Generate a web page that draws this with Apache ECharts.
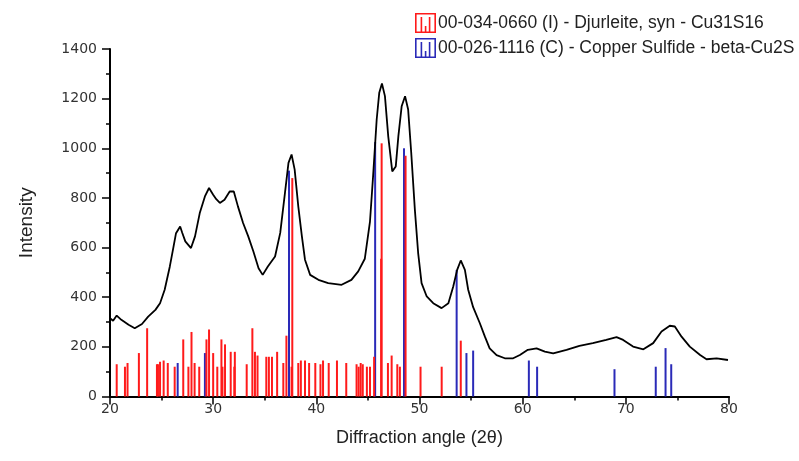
<!DOCTYPE html>
<html>
<head>
<meta charset="utf-8">
<script src="https://cdn.jsdelivr.net/npm/echarts@6/dist/echarts.min.js"></script>
<style>html,body{margin:0;padding:0;background:#fff}#c{width:799px;height:461px}</style>
</head>
<body>
<div id="c"></div>
<script>
// Measured XRD pattern (2θ, intensity)
const curveAngle = [20.0,20.3,20.65,21.1,21.8,22.4,23.1,23.7,24.4,24.85,25.3,25.8,26.1,26.4,26.8,27.0,27.3,27.85,28.24,28.7,29.2,29.6,30.0,30.3,30.65,31.1,31.6,32.0,32.4,32.9,33.4,33.9,34.4,34.8,35.3,36.0,36.5,36.96,37.3,37.6,37.9,38.25,38.6,38.9,39.4,40.2,41.15,42.45,43.4,44.06,44.7,45.2,45.5,45.85,46.1,46.36,46.65,46.97,47.36,47.7,47.95,48.27,48.6,48.9,49.2,49.55,49.87,50.2,50.7,51.33,52.14,52.8,53.27,53.65,54.0,54.4,54.72,55.2,55.85,56.34,56.8,57.47,58.27,59.08,59.73,60.5,61.35,62.15,62.96,64.25,65.5,66.8,68.1,69.1,69.74,70.7,71.7,72.65,73.46,74.26,74.75,75.4,76.2,77.2,77.82,78.8,79.9];
const curveIntensity = [315,305,326,309,289,275,292,322,349,376,430,524,591,658,685,660,625,598,645,739,806,840,813,795,780,793,826,826,766,699,645,584,517,490,524,564,659,820,941,975,914,766,645,551,490,470,457,450,470,504,555,705,887,1116,1224,1261,1210,1048,907,927,1048,1169,1210,1156,981,753,578,457,403,376,356,376,443,510,548,510,430,360,295,241,194,167,154,154,167,188,194,181,174,188,204,215,228,239,228,201,190,215,262,285,282,241,201,167,150,154,147];

// Reference pattern 00-034-0660 (I) - Djurleite, syn - Cu31S16
const djurName = '00-034-0660 (I) - Djurleite, syn - Cu31S16';
const djurAngle = [20.65,21.45,21.7,22.8,23.6,24.55,24.65,24.85,25.2,25.6,26.27,27.1,27.6,27.9,28.2,28.65,29.35,29.6,30.0,30.4,30.8,30.9,31.15,31.7,32.05,32.1,33.25,33.8,34.05,34.3,35.15,35.4,35.7,36.2,36.8,37.1,37.6,37.67,38.25,38.5,38.9,39.3,39.9,40.4,40.65,41.2,42.0,42.9,43.9,44.1,44.3,44.5,44.9,45.2,45.6,46.28,46.33,46.94,47.3,47.85,48.1,48.65,50.1,52.15,54.0];
const djurIntensity = [130,120,135,175,275,130,130,140,145,135,120,230,120,260,135,120,230,270,175,120,230,120,210,180,120,180,130,275,180,165,160,160,160,180,135,245,120,880,135,145,145,135,135,130,145,135,145,135,130,120,135,130,120,120,160,555,1020,135,165,130,120,970,120,120,225];

// Reference pattern 00-026-1116 (C) - Copper Sulfide - beta-Cu2S
const cu2sName = '00-026-1116 (C) - Copper Sulfide - beta-Cu2S';
const cu2sAngle = [26.56,29.2,37.35,45.7,48.5,53.6,54.55,55.2,60.6,61.4,68.9,72.9,73.85,74.4];
const cu2sIntensity = [135,175,910,1025,1000,510,175,185,145,120,110,120,195,130];

const zip = (a, b) => a.map((v, i) => [v, b[i]]);

const stickRender = function (params, api) {
  const p0 = api.coord([api.value(0), 0]);
  const p1 = api.coord([api.value(0), api.value(1)]);
  return {
    type: 'line',
    shape: { x1: p0[0], y1: p0[1], x2: p1[0], y2: p1[1] },
    style: { stroke: api.visual('color'), lineWidth: 2 }
  };
};

const iconPath = 'path://M0,0H21V1.6H0Z M0,18.4H21V20H0Z M0,0H1.6V20H0Z M19.4,0H21V20H19.4Z M5.6,4H7.2V20H5.6Z M9.8,13H11.4V20H9.8Z M13.8,4H15.4V20H13.8Z';

const chart = echarts.init(document.getElementById('c'), null, { renderer: 'canvas' });
chart.setOption({
  animation: false,
  backgroundColor: '#fff',
  grid: { left: 110, right: 70, top: 49, bottom: 64.5, containLabel: false },
  legend: {
    orient: 'vertical',
    left: 415, top: 13, padding: 0,
    itemWidth: 21, itemHeight: 20, itemGap: 5,
    textStyle: { fontFamily: 'Liberation Sans, Arial, sans-serif', fontSize: 17.5, color: '#222', padding: [0, 0, 0, -3] },
    data: [{ name: djurName, icon: iconPath }, { name: cu2sName, icon: iconPath }]
  },
  xAxis: {
    type: 'value', min: 20, max: 80, interval: 10,
    name: 'Diffraction angle (2θ)', nameLocation: 'middle', nameGap: 33,
    nameTextStyle: { fontFamily: 'Liberation Sans, Arial, sans-serif', fontSize: 18, color: '#222' },
    axisLine: { show: true, onZero: false, lineStyle: { color: '#000', width: 2 } },
    axisTick: { show: true, inside: false, length: 8, lineStyle: { color: '#000', width: 1.5 } },
    minorTick: { show: true, splitNumber: 2, length: 4, lineStyle: { color: '#000', width: 1.5 } },
    axisLabel: { fontFamily: 'DejaVu Sans, sans-serif', fontSize: 14, color: '#333', margin: 6, formatter: v => String(v) },
    splitLine: { show: false }
  },
  yAxis: {
    type: 'value', min: 0, max: 1400, interval: 200,
    name: 'Intensity', nameLocation: 'middle', nameGap: 74, nameRotate: 90,
    nameTextStyle: { fontFamily: 'Liberation Sans, Arial, sans-serif', fontSize: 19, color: '#222' },
    axisLine: { show: true, onZero: false, lineStyle: { color: '#000', width: 2 } },
    axisTick: { show: true, inside: false, length: 8, lineStyle: { color: '#000', width: 1.5 } },
    minorTick: { show: true, splitNumber: 2, length: 4, lineStyle: { color: '#000', width: 1.5 } },
    axisLabel: { fontFamily: 'DejaVu Sans, sans-serif', fontSize: 14, color: '#333', margin: 13, formatter: v => String(v) },
    splitLine: { show: false }
  },
  series: [
    {
      name: cu2sName, type: 'custom', renderItem: stickRender,
      itemStyle: { color: '#2a2ab8' }, encode: { x: 0, y: 1 },
      data: zip(cu2sAngle, cu2sIntensity), z: 2
    },
    {
      name: djurName, type: 'custom', renderItem: stickRender,
      itemStyle: { color: '#ff1a1a' }, encode: { x: 0, y: 1 },
      data: zip(djurAngle, djurIntensity), z: 3
    },
    {
      name: 'Measured', type: 'line', showSymbol: false, symbol: 'none',
      lineStyle: { color: '#000', width: 1.8 },
      data: zip(curveAngle, curveIntensity), z: 4
    }
  ]
});
</script>
</body>
</html>
